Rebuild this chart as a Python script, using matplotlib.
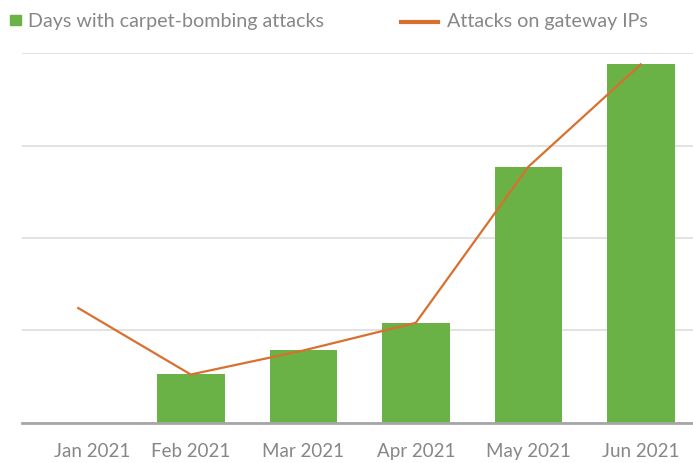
import matplotlib
matplotlib.use("Agg")
import matplotlib.pyplot as plt
from matplotlib.patches import Rectangle
from matplotlib.lines import Line2D
from matplotlib.transforms import ScaledTranslation

# monthly data
months = ["Jan 2021", "Feb 2021", "Mar 2021", "Apr 2021", "May 2021", "Jun 2021"]
carpet_days = [0, 5.25, 7.85, 10.8, 27.7, 38.8]
gateway_attacks = [12.4, 5.2, 7.8, 10.8, 27.7, 38.8]

green = "#6AB245"
orange = "#D8702F"
grey_text = "#878787"

plt.rcParams["font.family"] = ["Lato", "DejaVu Sans"]

W, H = 693, 464
fig = plt.figure(figsize=(W / 100, H / 100), dpi=100)
ax = fig.add_axes([22 / W, (H - 423.5) / H, 675 / W, 369.2 / H])

x = list(range(len(months)))
ax.bar(x, carpet_days, width=0.6, color=green, zorder=2)
ax.plot(x, gateway_attacks, color=orange, lw=1.6, zorder=3)

ax.set_xlim(-0.5, 5.5)
ax.set_ylim(0, 40)
ax.set_yticks([0, 10, 20, 30, 40])
ax.yaxis.grid(True, color="#dddddd", lw=1.2, zorder=0)
ax.tick_params(axis="y", left=False, labelleft=False)
ax.tick_params(axis="x", length=0, pad=14, labelsize=13.5, labelcolor=grey_text)
ax.set_xticks(x)
ax.set_xticklabels(months)
# first label sits a bit to the right
jan = ax.get_xticklabels()[0]
jan.set_transform(jan.get_transform() + ScaledTranslation(14 / 100, 0, fig.dpi_scale_trans))

for s in ["left", "right", "top"]:
    ax.spines[s].set_visible(False)
ax.spines["bottom"].set_color("#a6a6a6")
ax.spines["bottom"].set_linewidth(2)
ax.spines["bottom"].set_zorder(4)

# legend row
fig.patches.append(Rectangle((10 / W, (H - 26) / H), 11 / W, 10 / H,
                             transform=fig.transFigure, color=green))
fig.text(28 / W, (H - 22) / H, "Days with carpet-bombing attacks",
         fontsize=14.2, color=grey_text, va="center")
fig.lines.append(Line2D([401 / W, 438 / W], [(H - 23) / H] * 2,
                        transform=fig.transFigure, color=orange, lw=3))
fig.text(447 / W, (H - 22) / H, "Attacks on gateway IPs",
         fontsize=14.2, color=grey_text, va="center")

fig.savefig("out.png", dpi=100)
